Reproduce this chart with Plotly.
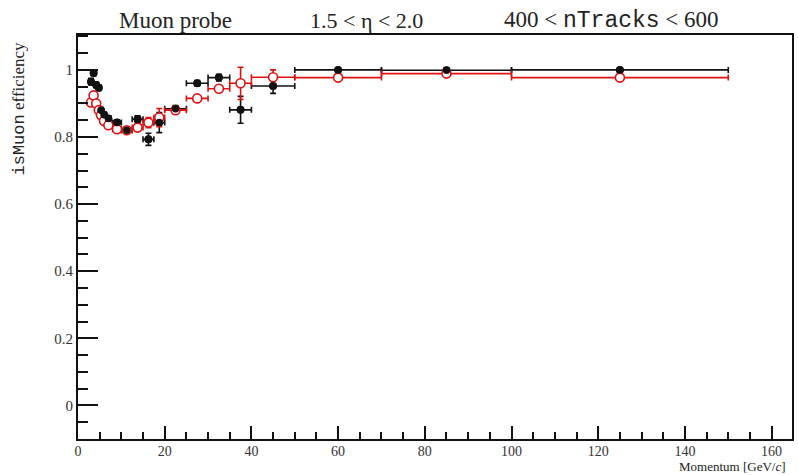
import plotly.graph_objects as go

# Momentum bin centres and half-widths [GeV/c]
momentum = [3.0, 3.6, 4.2, 4.8, 5.3, 6.0, 7.0, 9.0, 11.25, 13.75, 16.25, 18.75,
            22.5, 27.5, 32.5, 37.5, 45.0, 60.0, 85.0, 125.0]
half_width = [0.3, 0.3, 0.3, 0.3, 0.25, 0.5, 0.5, 1.0, 1.25, 1.25, 1.25, 1.25,
              2.5, 2.5, 2.5, 2.5, 5.0, 10.0, 15.0, 25.0]

# Black (filled) series
eff_black = [0.965, 0.991, 0.955, 0.947, 0.880, 0.866, 0.855, 0.843, 0.820, 0.853,
             0.793, 0.843, 0.884, 0.960, 0.977, 0.881, 0.952, 1.000, 0.999, 1.000]
err_black = [0.010, 0.008, 0.008, 0.008, 0.008, 0.008, 0.008, 0.008, 0.008, 0.010,
             0.018, 0.030, 0.010, 0.008, 0.010, 0.040, 0.022, 0.004, 0.003, 0.003]

# Red (open) series
eff_red = [0.903, 0.924, 0.900, 0.880, 0.865, 0.848, 0.835, 0.823, 0.820, 0.828,
           0.843, 0.858, 0.880, 0.915, 0.944, 0.960, 0.978, 0.977, 0.989, 0.977]
err_red = [0.010, 0.010, 0.008, 0.008, 0.008, 0.008, 0.008, 0.008, 0.008, 0.010,
           0.015, 0.027, 0.010, 0.008, 0.010, 0.048, 0.022, 0.004, 0.003, 0.003]

x_ticks = [0, 20, 40, 60, 80, 100, 120, 140, 160]
y_ticks = [0, 0.2, 0.4, 0.6, 0.8, 1.0]
y_tick_text = ["0", "0.2", "0.4", "0.6", "0.8", "1"]

BLACK = "#111111"
RED = "#e01010"
SERIF = "Liberation Serif, Times New Roman, serif"
MONO_SPAN = "<span style=\"font-family:Liberation Mono, Courier New, monospace\">{}</span>"

fig = go.Figure()

# black error bars (drawn first)
fig.add_trace(go.Scatter(
    x=momentum, y=eff_black, mode="markers",
    marker=dict(symbol="circle", size=8, color=BLACK),
    error_x=dict(type="data", array=half_width, color=BLACK, thickness=1.6, width=3),
    error_y=dict(type="data", array=err_black, color=BLACK, thickness=1.6, width=3),
    showlegend=False, hoverinfo="skip",
))

# red series with open (white-filled) circles
fig.add_trace(go.Scatter(
    x=momentum, y=eff_red, mode="markers",
    marker=dict(symbol="circle", size=9, color="white", line=dict(width=1.6, color=RED)),
    error_x=dict(type="data", array=half_width, color=RED, thickness=1.6, width=3),
    error_y=dict(type="data", array=err_red, color=RED, thickness=1.6, width=3),
    showlegend=False,
))

# black filled markers on top
fig.add_trace(go.Scatter(
    x=momentum, y=eff_black, mode="markers",
    marker=dict(symbol="circle", size=7.5, color=BLACK),
    showlegend=False,
))

fig.update_layout(
    width=798, height=475,
    margin=dict(l=78, r=4, t=35, b=36),
    paper_bgcolor="white", plot_bgcolor="white",
    font=dict(family=SERIF, color="#222222", size=14),
    xaxis=dict(
        range=[0, 164.7], tickvals=x_ticks, ticktext=[str(v) for v in x_ticks],
        ticks="inside", ticklen=13, tickwidth=1.5, tickcolor=BLACK,
        minor=dict(dtick=5, tick0=0, ticks="inside", ticklen=7, tickwidth=1.5, tickcolor=BLACK, showgrid=False),
        showgrid=False, zeroline=False,
        showline=True, linecolor=BLACK, linewidth=1.8, mirror=True,
        tickfont=dict(family=SERIF, size=14, color="#333333"),
        ticklabelstandoff=-2,
    ),
    yaxis=dict(
        range=[-0.1, 1.104], tickvals=y_ticks, ticktext=y_tick_text,
        ticks="inside", ticklen=20, tickwidth=1.5, tickcolor=BLACK,
        minor=dict(dtick=0.05, tick0=0, ticks="inside", ticklen=10, tickwidth=1.5, tickcolor=BLACK, showgrid=False),
        showgrid=False, zeroline=False,
        showline=True, linecolor=BLACK, linewidth=1.8, mirror=True,
        tickfont=dict(family=SERIF, size=15, color="#333333"),
    ),
)

title_y = 1.037
fig.add_annotation(text="Muon probe", xref="paper", yref="paper", x=0.137, y=title_y,
                   showarrow=False, xanchor="center", yanchor="middle",
                   font=dict(family=SERIF, size=23, color="#222222"))
fig.add_annotation(text="1.5 < η < 2.0", xref="paper", yref="paper", x=0.404, y=title_y,
                   showarrow=False, xanchor="center", yanchor="middle",
                   font=dict(family=SERIF, size=22, color="#222222"))
fig.add_annotation(text="400 < " + MONO_SPAN.format("nTracks") + " < 600",
                   xref="paper", yref="paper", x=0.747, y=title_y,
                   showarrow=False, xanchor="center", yanchor="middle",
                   font=dict(family=SERIF, size=23, color="#222222"))

fig.add_annotation(text=MONO_SPAN.format("isMuon") + " efficiency",
                   xref="paper", yref="paper", x=-0.082, y=0.99, textangle=-90,
                   showarrow=False, xanchor="center", yanchor="top",
                   font=dict(family=SERIF, size=17, color="#222222"))

fig.add_annotation(text="Momentum [GeV/<i>c</i>]", xref="paper", yref="paper", x=0.993, y=-0.0895,
                   showarrow=False, xanchor="right", yanchor="bottom", borderpad=0,
                   font=dict(family=SERIF, size=13, color="#222222"))

fig.write_html("out.html", config={"displayModeBar": False},
               post_script="document.body.style.margin='0';document.body.style.padding='0';")
